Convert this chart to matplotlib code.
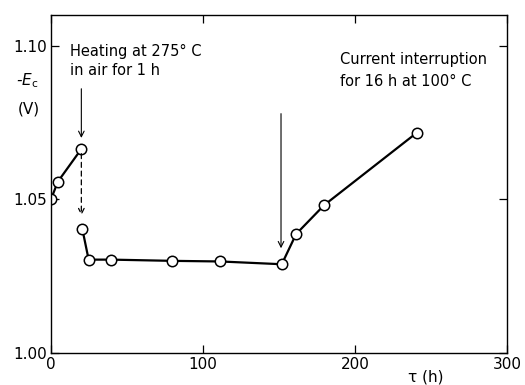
import numpy as np
import matplotlib
matplotlib.use('Agg')
import matplotlib.pyplot as plt

# measured points, before heating
t_before = [0, 4.6, 20]
e_before = [1.050, 1.0558, 1.0664]

# after heating (ends at current interruption and beyond)
t_after = [20.6, 24.8, 39.7, 79.8, 111.4, 151.8, 161.2, 179.6, 240.6]
e_after = [1.0405, 1.0304, 1.0304, 1.0300, 1.0298, 1.0289, 1.0387, 1.0481, 1.0717]

xticks = [0, 100, 200, 300]
yticks = [1.00, 1.05, 1.10]
ytick_labels = ['1.00', '1.05', '1.10']

plt.rcParams['font.family'] = ['DejaVu Sans']

fig = plt.figure(figsize=(5.25, 3.85), dpi=100)
ax = fig.add_axes([0.097, 0.083, 0.869, 0.878])

line_kw = dict(color='black', lw=1.6, marker='o', markersize=7.5,
               markerfacecolor='white', markeredgecolor='black', markeredgewidth=1.1)
ax.plot(t_before, e_before, **line_kw)
ax.plot(t_after, e_after, **line_kw)

# dashed drop after heating
ax.annotate('', xy=(t_before[-1], 1.0448), xytext=(t_before[-1], e_before[-1] - 0.0015),
            arrowprops=dict(arrowstyle='->', color='black', lw=0.9, ls=(0, (4, 3)),
                            shrinkA=0, shrinkB=0))

# annotation arrows
ax.annotate('', xy=(20, 1.0700), xytext=(20, 1.0860),
            arrowprops=dict(arrowstyle='->', color='black', lw=0.8, shrinkA=0, shrinkB=0))
ax.annotate('', xy=(151.3, 1.0341), xytext=(151.3, 1.0779),
            arrowprops=dict(arrowstyle='->', color='black', lw=0.8, shrinkA=0, shrinkB=0))

ax.text(12.5, 1.1005, 'Heating at 275° C\nin air for 1 h', fontsize=10.5,
        va='top', ha='left', linespacing=1.3)
ax.text(190, 1.098, 'Current interruption\nfor 16 h at 100° C', fontsize=10.5,
        va='top', ha='left', linespacing=1.6)

ax.set_xlim(0, 300)
ax.set_ylim(1.00, 1.11)
ax.set_xticks(xticks)
ax.set_xticklabels([str(v) for v in xticks], fontsize=11)
ax.set_yticks(yticks)
ax.set_yticklabels(ytick_labels, fontsize=11)
ax.tick_params(direction='in', length=6, width=0.9, top=True, right=True, pad=3)
for s in ax.spines.values():
    s.set_linewidth(1.0)

fig.text(0.052, 0.79, r'-$E_{\rm c}$', fontsize=11, ha='center', va='center', style='italic')
fig.text(0.055, 0.718, '(V)', fontsize=11, ha='center', va='center')
fig.text(0.81, 0.022, 'τ (h)', fontsize=11, ha='center', va='center')

fig.savefig('out.png', dpi=100)
